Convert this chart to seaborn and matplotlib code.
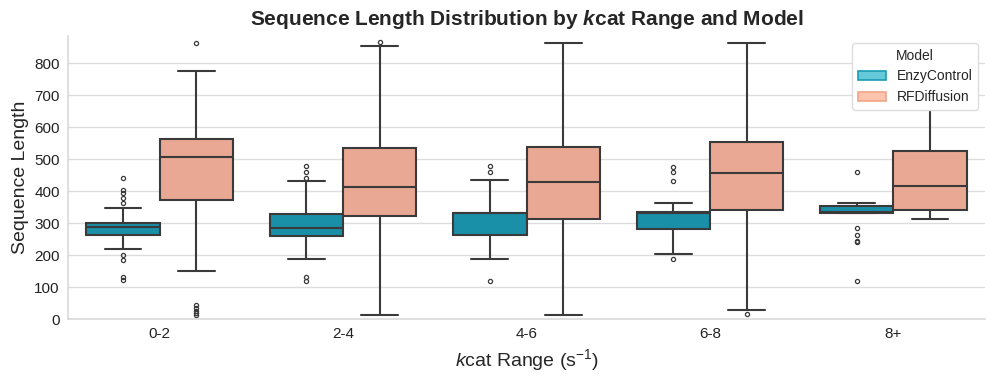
import numpy as np
import pandas as pd
import matplotlib
matplotlib.use("Agg")
import matplotlib.pyplot as plt
import seaborn as sns
from matplotlib.patches import Patch

# ---- data (box statistics per group) ----
categories = ["0-2", "2-4", "4-6", "6-8", "8+"]
models = ["EnzyControl", "RFDiffusion"]

enzy_q1 = [263, 259, 263, 281, 331]
enzy_med = [289, 286, 331, 331, 336]
enzy_q3 = [300, 329, 333, 334, 354]
enzy_wlo = [218, 187, 187, 203, 331]
enzy_whi = [347, 433, 436, 363, 363]
enzy_out = [
    [362, 380, 395, 405, 440, 200, 185, 133, 122],
    [477, 460, 441, 130, 120],
    [477, 460, 119],
    [475, 460, 433, 187],
    [460, 284, 263, 245, 240, 119],
]

rf_q1 = [373, 321, 312, 342, 342]
rf_med = [507, 412, 428, 456, 415]
rf_q3 = [564, 535, 537, 553, 525]
rf_wlo = [151, 12, 12, 28, 313]
rf_whi = [775, 854, 864, 864, 657]
rf_out = [
    [864, 45, 35, 25, 18, 12],
    [866],
    [],
    [16],
    [],
]

# Build a long table whose quartiles/whiskers reproduce the statistics above
rows = []
def add_group(cat, model, q1, med, q3, wlo, whi, outs):
    vals = [wlo] + [q1] * 40 + [med] * 40 + [q3] * 40 + [whi] + list(outs)
    for v in vals:
        rows.append((cat, model, v))

for i, c in enumerate(categories):
    add_group(c, models[0], enzy_q1[i], enzy_med[i], enzy_q3[i], enzy_wlo[i], enzy_whi[i], enzy_out[i])
    add_group(c, models[1], rf_q1[i], rf_med[i], rf_q3[i], rf_wlo[i], rf_whi[i], rf_out[i])

df = pd.DataFrame(rows, columns=["kcat", "Model", "Length"])

# ---- style ----
sns.set_theme(style="whitegrid")
plt.rcParams["font.family"] = ["Liberation Sans", "DejaVu Sans"]
plt.rcParams["mathtext.fontset"] = "custom"
plt.rcParams["mathtext.rm"] = "Liberation Sans"
plt.rcParams["mathtext.it"] = "Liberation Sans:italic"
plt.rcParams["mathtext.bf"] = "Liberation Sans:bold"
plt.rcParams["mathtext.bfit"] = "Liberation Sans:italic:bold"

box_colors = {"EnzyControl": "#1a8fa8", "RFDiffusion": "#e9a893"}
legend_colors = {"EnzyControl": ("#66c9d9", "#1a9bb5"), "RFDiffusion": ("#fcc4ad", "#f0a488")}

fig = plt.figure(figsize=(9.97, 3.83), dpi=100)
ax = fig.add_axes([0.0682, 0.167, 0.988 - 0.0682, 0.906 - 0.167])

sns.boxplot(
    data=df, x="kcat", y="Length", hue="Model", order=categories, hue_order=models,
    palette=box_colors, saturation=1, width=0.8, ax=ax,
    linewidth=1.5, linecolor="#3a3a3a",
    flierprops=dict(marker="o", markersize=3, markerfacecolor="none",
                    markeredgecolor="#3a3a3a", markeredgewidth=0.9),
)

ax.set_ylim(0, 885)
ax.set_xlim(-0.5, 4.5)
ax.grid(axis="x", visible=False)
ax.grid(axis="y", color="#dddddd", linewidth=1)
ax.set_yticks([0, 100, 200, 300, 400, 500, 600, 700, 800])
ax.tick_params(axis="both", labelsize=11, colors="#222222", length=0, pad=6)
for s in ["top", "right"]:
    ax.spines[s].set_visible(False)
for s in ["left", "bottom"]:
    ax.spines[s].set_color("#d9d9d9")
    ax.spines[s].set_linewidth(1.2)

ax.set_title(r"Sequence Length Distribution by $\mathbfit{k}$cat Range and Model",
             fontsize=15, fontweight="bold", pad=8)
ax.set_xlabel(r"$\mathit{k}$cat Range (s$^{-1}$)", fontsize=14)
ax.set_ylabel("Sequence Length", fontsize=14)

handles = [Patch(facecolor=legend_colors[m][0], edgecolor=legend_colors[m][1], linewidth=1.2, label=m)
           for m in models]
leg = ax.legend(handles=handles, title="Model", loc="upper right", fontsize=10, title_fontsize=10,
                frameon=True, framealpha=1, edgecolor="#dddddd", bbox_to_anchor=(1.0, 1.0))

fig.savefig("out.png", dpi=100)
